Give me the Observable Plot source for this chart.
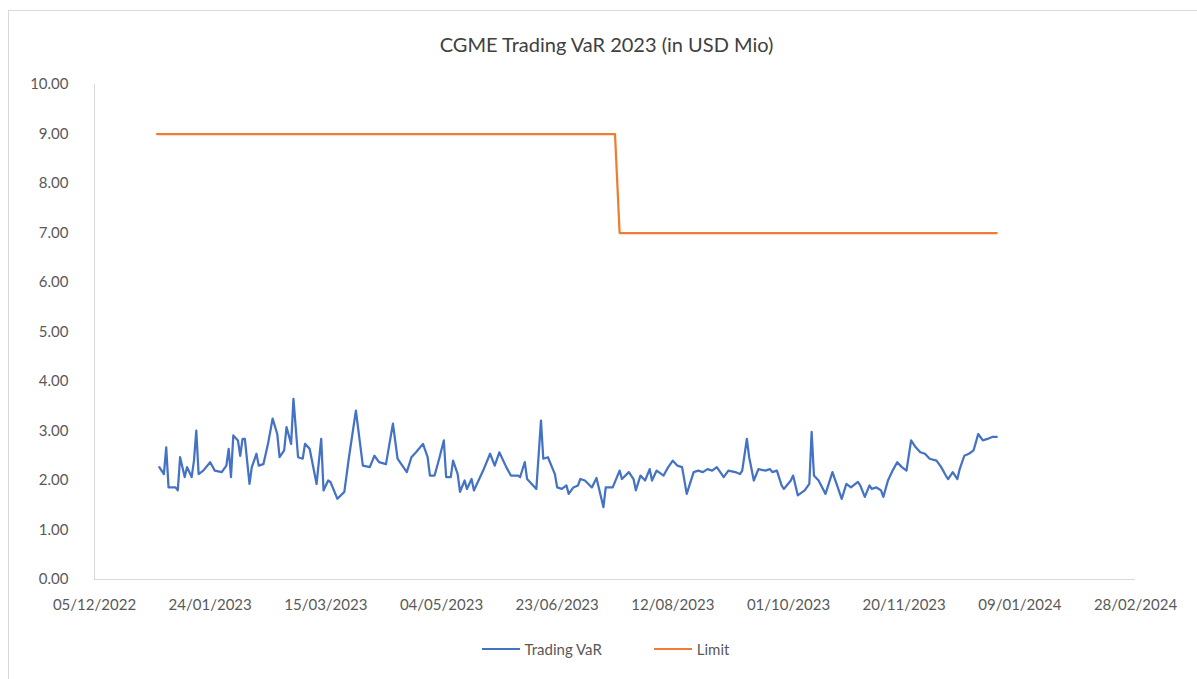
<!DOCTYPE html>
<html>
<head>
<meta charset="utf-8">
<script src="https://cdn.jsdelivr.net/npm/d3@7"></script>
<script src="https://cdn.jsdelivr.net/npm/@observablehq/plot@0.6"></script>
<style>
  html, body { margin: 0; padding: 0; background: #fff; overflow: hidden; }
  body { width: 1197px; height: 679px; position: relative; font-family: Lato, "Open Sans", sans-serif; color: #595959; }
  #frame { position: absolute; left: 8px; top: 10px; right: -2px; bottom: -2px; border-top: 1px solid #d9d9d9; border-left: 1px solid #d9d9d9; }
  #title { position: absolute; top: 32px; left: 8px; width: 1197px; text-align: center; font-size: 20px; color: #404040; }
  #chart { position: absolute; top: 70px; left: 0; }
  #legend { position: absolute; top: 640px; left: 0; width: 1197px; display: flex; justify-content: center; gap: 52px; font-size: 15px; color: #595959; padding-left: 14px; box-sizing: border-box; }
  .item { display: flex; align-items: center; gap: 5px; }
  .sw { width: 38px; height: 2.5px; display: inline-block; }
</style>
</head>
<body>
<div id="frame"></div>
<div id="title">CGME Trading VaR 2023 (in USD Mio)</div>
<div id="chart"></div>
<div id="legend"></div>
<script>
// Trading VaR: day of 2023 (0 = 1 Jan 2023) and value in USD Mio
const varDays = [1,3,4,5,8,9,10,12,13,15,16,17,18,20,23,25,28,30,31,32,33,35,36,37,38,40,41,43,44,46,48,50,52,53,55,56,58,59,61,63,64,66,69,71,72,74,75,78,81,83,86,89,
92,94,96,99,102,104,108,110,112,115,117,118,120,122,124,125,127,128,130,131,133,134,136,137,139,141,144,146,148,151,153,156,157,159,160,162,164,166,167,169,172,173,175,177,178,180,182,
183,185,188,190,193,194,197,200,201,204,206,207,209,211,213,214,216,219,221,223,225,227,229,232,234,236,238,240,242,245,247,250,252,253,255,256,258,260,263,265,266,268,270,271,274,
275,277,280,282,283,284,286,289,292,294,296,298,300,303,304,306,308,309,311,313,314,316,318,320,322,324,326,328,330,332,334,337,339,341,342,344,346,347,349,351,353,354,355,357,359,361,363];
const varValues = [2.27,2.13,2.67,1.86,1.86,1.80,2.47,2.07,2.27,2.07,2.40,3.01,2.13,2.20,2.37,2.20,2.17,2.30,2.64,2.07,2.91,2.81,2.50,2.84,2.84,1.93,2.27,2.54,2.30,2.33,2.74,3.25,2.94,2.47,2.61,3.08,2.74,3.65,2.47,2.44,2.74,2.64,1.93,2.84,1.80,2.00,1.97,1.63,1.77,2.47,3.41,2.30,
2.27,2.50,2.37,2.33,3.15,2.44,2.17,2.47,2.57,2.74,2.47,2.10,2.10,2.44,2.81,2.07,2.07,2.40,2.13,1.77,2.00,1.83,2.03,1.80,2.00,2.20,2.54,2.30,2.57,2.27,2.10,2.10,2.07,2.37,2.03,1.93,1.83,3.21,2.44,2.47,2.13,1.86,1.83,1.90,1.73,1.86,1.90,
2.03,2.00,1.86,2.05,1.46,1.86,1.86,2.20,2.03,2.17,2.03,1.80,2.10,2.00,2.23,2.00,2.20,2.10,2.27,2.40,2.30,2.27,1.73,2.17,2.20,2.17,2.23,2.20,2.27,2.07,2.20,2.17,2.13,2.20,2.84,2.47,2.00,2.23,2.20,2.23,2.17,2.20,1.90,1.83,2.00,
2.10,1.70,1.80,1.93,2.98,2.10,2.00,1.73,2.17,1.90,1.63,1.93,1.86,1.97,1.90,1.67,1.90,1.83,1.86,1.80,1.67,2.00,2.20,2.37,2.27,2.20,2.81,2.67,2.57,2.54,2.44,2.40,2.27,2.10,2.03,2.17,2.03,2.23,2.50,2.54,2.61,2.77,2.94,2.81,2.84,2.88,2.88];
// Limit
const limitDays = [0, 198, 200, 363];
const limitValues = [9, 9, 7, 7];
// Axes
const xTickLabels = ["2022-12-05","2023-01-24","2023-03-15","2023-05-04","2023-06-23","2023-08-12","2023-10-01","2023-11-20","2024-01-09","2024-02-28"];
const yTicks = [0,1,2,3,4,5,6,7,8,9,10];
const seriesNames = ["Trading VaR", "Limit"];
const seriesColors = ["#4472C4", "#ED7D31"];

const base = Date.UTC(2023, 0, 1);
const toDate = d => d3.utcDay.offset(new Date(base), d);
const varData = varDays.map((d, i) => ({date: toDate(d), value: varValues[i]}));
const limitData = limitDays.map((d, i) => ({date: toDate(d), value: limitValues[i]}));
const xTicks = xTickLabels.map(s => new Date(s + "T00:00:00Z"));

const chart = Plot.plot({
  width: 1197,
  height: 554,
  marginLeft: 94,
  marginRight: 62,
  marginTop: 14,
  marginBottom: 45,
  style: {fontFamily: "Lato, 'Open Sans', sans-serif", fontSize: "15px", color: "#595959", background: "transparent"},
  x: {type: "utc", domain: [xTicks[0], xTicks[xTicks.length - 1]]},
  y: {domain: [0, 10]},
  marks: [
    Plot.ruleX([xTicks[0]], {stroke: "#d9d9d9", strokeWidth: 1}),
    Plot.ruleY([0], {stroke: "#d9d9d9", strokeWidth: 1}),
    Plot.axisY({ticks: yTicks, tickSize: 0, tickPadding: 26, tickFormat: d => d.toFixed(2), label: null, fill: "#595959"}),
    Plot.axisX({ticks: xTicks, tickSize: 0, tickPadding: 20, tickFormat: d3.utcFormat("%d/%m/%Y"), label: null, fill: "#595959"}),
    Plot.line(limitData, {x: "date", y: "value", stroke: seriesColors[1], strokeWidth: 2.25}),
    Plot.line(varData, {x: "date", y: "value", stroke: seriesColors[0], strokeWidth: 2.25, strokeLinejoin: "round"})
  ]
});
document.getElementById("chart").appendChild(chart);

const legend = document.getElementById("legend");
seriesNames.forEach((n, i) => {
  const it = document.createElement("div");
  it.className = "item";
  const sw = document.createElement("span");
  sw.className = "sw";
  sw.style.background = seriesColors[i];
  const t = document.createElement("span");
  t.textContent = n;
  it.appendChild(sw); it.appendChild(t);
  legend.appendChild(it);
});
</script>
</body>
</html>
